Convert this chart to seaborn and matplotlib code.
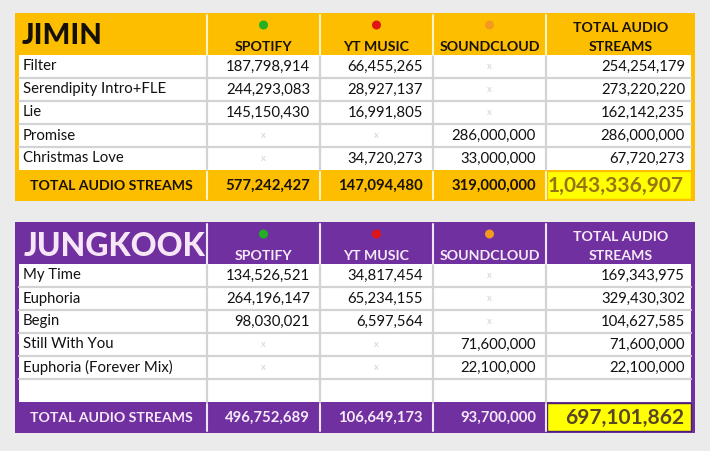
import matplotlib
matplotlib.use("Agg")
import matplotlib.pyplot as plt
from matplotlib.patches import Rectangle, Circle
import seaborn as sns

# ---- data ----
platforms = ["SPOTIFY", "YT MUSIC", "SOUNDCLOUD"]
platform_dots = ["#22b022", "#e01515", "#f39a1e"]
total_header = ["TOTAL AUDIO", "STREAMS"]
total_label = "TOTAL AUDIO STREAMS"

jimin_songs = ["Filter", "Serendipity Intro+FLE", "Lie", "Promise", "Christmas Love"]
jimin_spotify = [187798914, 244293083, 145150430, None, None]
jimin_ytmusic = [66455265, 28927137, 16991805, None, 34720273]
jimin_soundcloud = [None, None, None, 286000000, 33000000]
jimin_song_totals = [254254179, 273220220, 162142235, 286000000, 67720273]
jimin_col_totals = [577242427, 147094480, 319000000, 1043336907]

jk_songs = ["My Time", "Euphoria", "Begin", "Still With You", "Euphoria (Forever Mix)"]
jk_spotify = [134526521, 264196147, 98030021, None, None]
jk_ytmusic = [34817454, 65234155, 6597564, None, None]
jk_soundcloud = [None, None, None, 71600000, 22100000]
jk_song_totals = [169343975, 329430302, 104627585, 71600000, 22100000]
jk_col_totals = [496752689, 106649173, 93700000, 697101862]

# ---- layout (pixels) ----
W, H = 710, 451
col_edges = [15, 207, 320, 433, 546, 695]
header_h = 42
row_h = 23
total_h = 31
inset = 4

sns.set_theme(style="white")
plt.rcParams["font.family"] = ["Lato", "DejaVu Sans"]

fig = plt.figure(figsize=(W / 100, H / 100), dpi=100, facecolor="#ebebeb")
ax = fig.add_axes([0, 0, 1, 1])
ax.set_xlim(0, W)
ax.set_ylim(H, 0)
ax.axis("off")


def fmt(v):
    return f"{v:,}"


def draw_table(top, title, songs, values, song_totals, col_totals, theme, blank_rows=0):
    n_rows = len(songs) + blank_rows
    body_top = top + header_h
    body_bot = body_top + n_rows * row_h
    bottom = body_bot + total_h
    left, right = col_edges[0], col_edges[-1]

    ax.add_patch(Rectangle((left, top), right - left, bottom - top, color=theme["bg"], lw=0))
    ax.add_patch(Rectangle((left + inset, body_top), right - left - 2 * inset,
                           body_bot - body_top, color="white", lw=0))

    # grid lines in body
    for i in range(1, n_rows):
        y = body_top + i * row_h
        ax.plot([left + inset, right - inset], [y, y], color="#d3d3d3", lw=1.6)
    for x in col_edges[1:-1]:
        ax.plot([x, x], [body_top, body_bot], color="#d3d3d3", lw=1.6)
        ax.plot([x, x], [top + 2, body_top], color=theme["sep"], lw=1.5)
        ax.plot([x, x], [body_bot + 2, bottom - 2], color=theme["sep"], lw=1.5)

    # header
    ax.text(left + theme["title_dx"], top + theme["title_dy"], title, ha="left", va="center",
            color=theme["title"], fontsize=theme["title_size"], fontweight="black")
    for j, (name, dot) in enumerate(zip(platforms, platform_dots)):
        cx = (col_edges[j + 1] + col_edges[j + 2]) / 2
        ax.add_patch(Circle((cx, top + 12), 4.5, color=dot, lw=0))
        ax.text(cx, top + 34, name, ha="center", va="center", color=theme["head"],
                fontsize=10.2, fontweight="bold")
    cx = (col_edges[4] + col_edges[5]) / 2
    ax.text(cx, top + 15, total_header[0], ha="center", va="center", color=theme["head"],
            fontsize=10.2, fontweight="bold")
    ax.text(cx, top + 34, total_header[1], ha="center", va="center", color=theme["head"],
            fontsize=10.2, fontweight="bold")

    # body rows
    for i, song in enumerate(songs):
        yc = body_top + (i + 0.5) * row_h
        ax.text(col_edges[0] + 8, yc, song, ha="left", va="center", color="#111111", fontsize=10.7)
        row_vals = [values[0][i], values[1][i], values[2][i], song_totals[i]]
        for j, v in enumerate(row_vals):
            if v is None:
                ax.text((col_edges[j + 1] + col_edges[j + 2]) / 2, yc, "x", ha="center",
                        va="center", color="#d2d2d2", fontsize=7)
            else:
                ax.text(col_edges[j + 2] - 10, yc, fmt(v), ha="right", va="center",
                        color="#111111", fontsize=10.7)

    # total row
    yc = (body_bot + bottom) / 2
    ax.text((col_edges[0] + col_edges[1]) / 2, yc, total_label, ha="center", va="center",
            color=theme["head"], fontsize=10.2, fontweight="bold")
    ax.add_patch(Rectangle((col_edges[4] + 1, body_bot + 1), col_edges[5] - col_edges[4] - inset - 1,
                           total_h - 3, facecolor="#ffff00", edgecolor=theme["grand_edge"], lw=1))
    for j, v in enumerate(col_totals):
        if j < 3:
            ax.text(col_edges[j + 2] - 10, yc, fmt(v), ha="right", va="center",
                    color=theme["head"], fontsize=10.7, fontweight="bold")
        else:
            ax.text(col_edges[j + 2] - 11, yc, fmt(v), ha="right", va="center",
                    color=theme["grand"], fontsize=15, fontweight="bold")


jimin_theme = dict(bg="#fdbe00", sep="#fff3c4", title="#141008", head="#1a1208",
                   grand="#967414", grand_edge="#fdbe00", title_size=21,
                   title_dx=7, title_dy=23)
jk_theme = dict(bg="#7030a0", sep="#efe4f7", title="#f6e6f6", head="#f6eaf8",
                grand="#574626", grand_edge="#4a2070", title_size=23,
                title_dx=9, title_dy=24)

draw_table(13, "JIMIN", jimin_songs, [jimin_spotify, jimin_ytmusic, jimin_soundcloud],
           jimin_song_totals, jimin_col_totals, jimin_theme)
draw_table(222, "JUNGKOOK", jk_songs, [jk_spotify, jk_ytmusic, jk_soundcloud],
           jk_song_totals, jk_col_totals, jk_theme, blank_rows=1)

fig.savefig("out.png", dpi=100, facecolor=fig.get_facecolor())
